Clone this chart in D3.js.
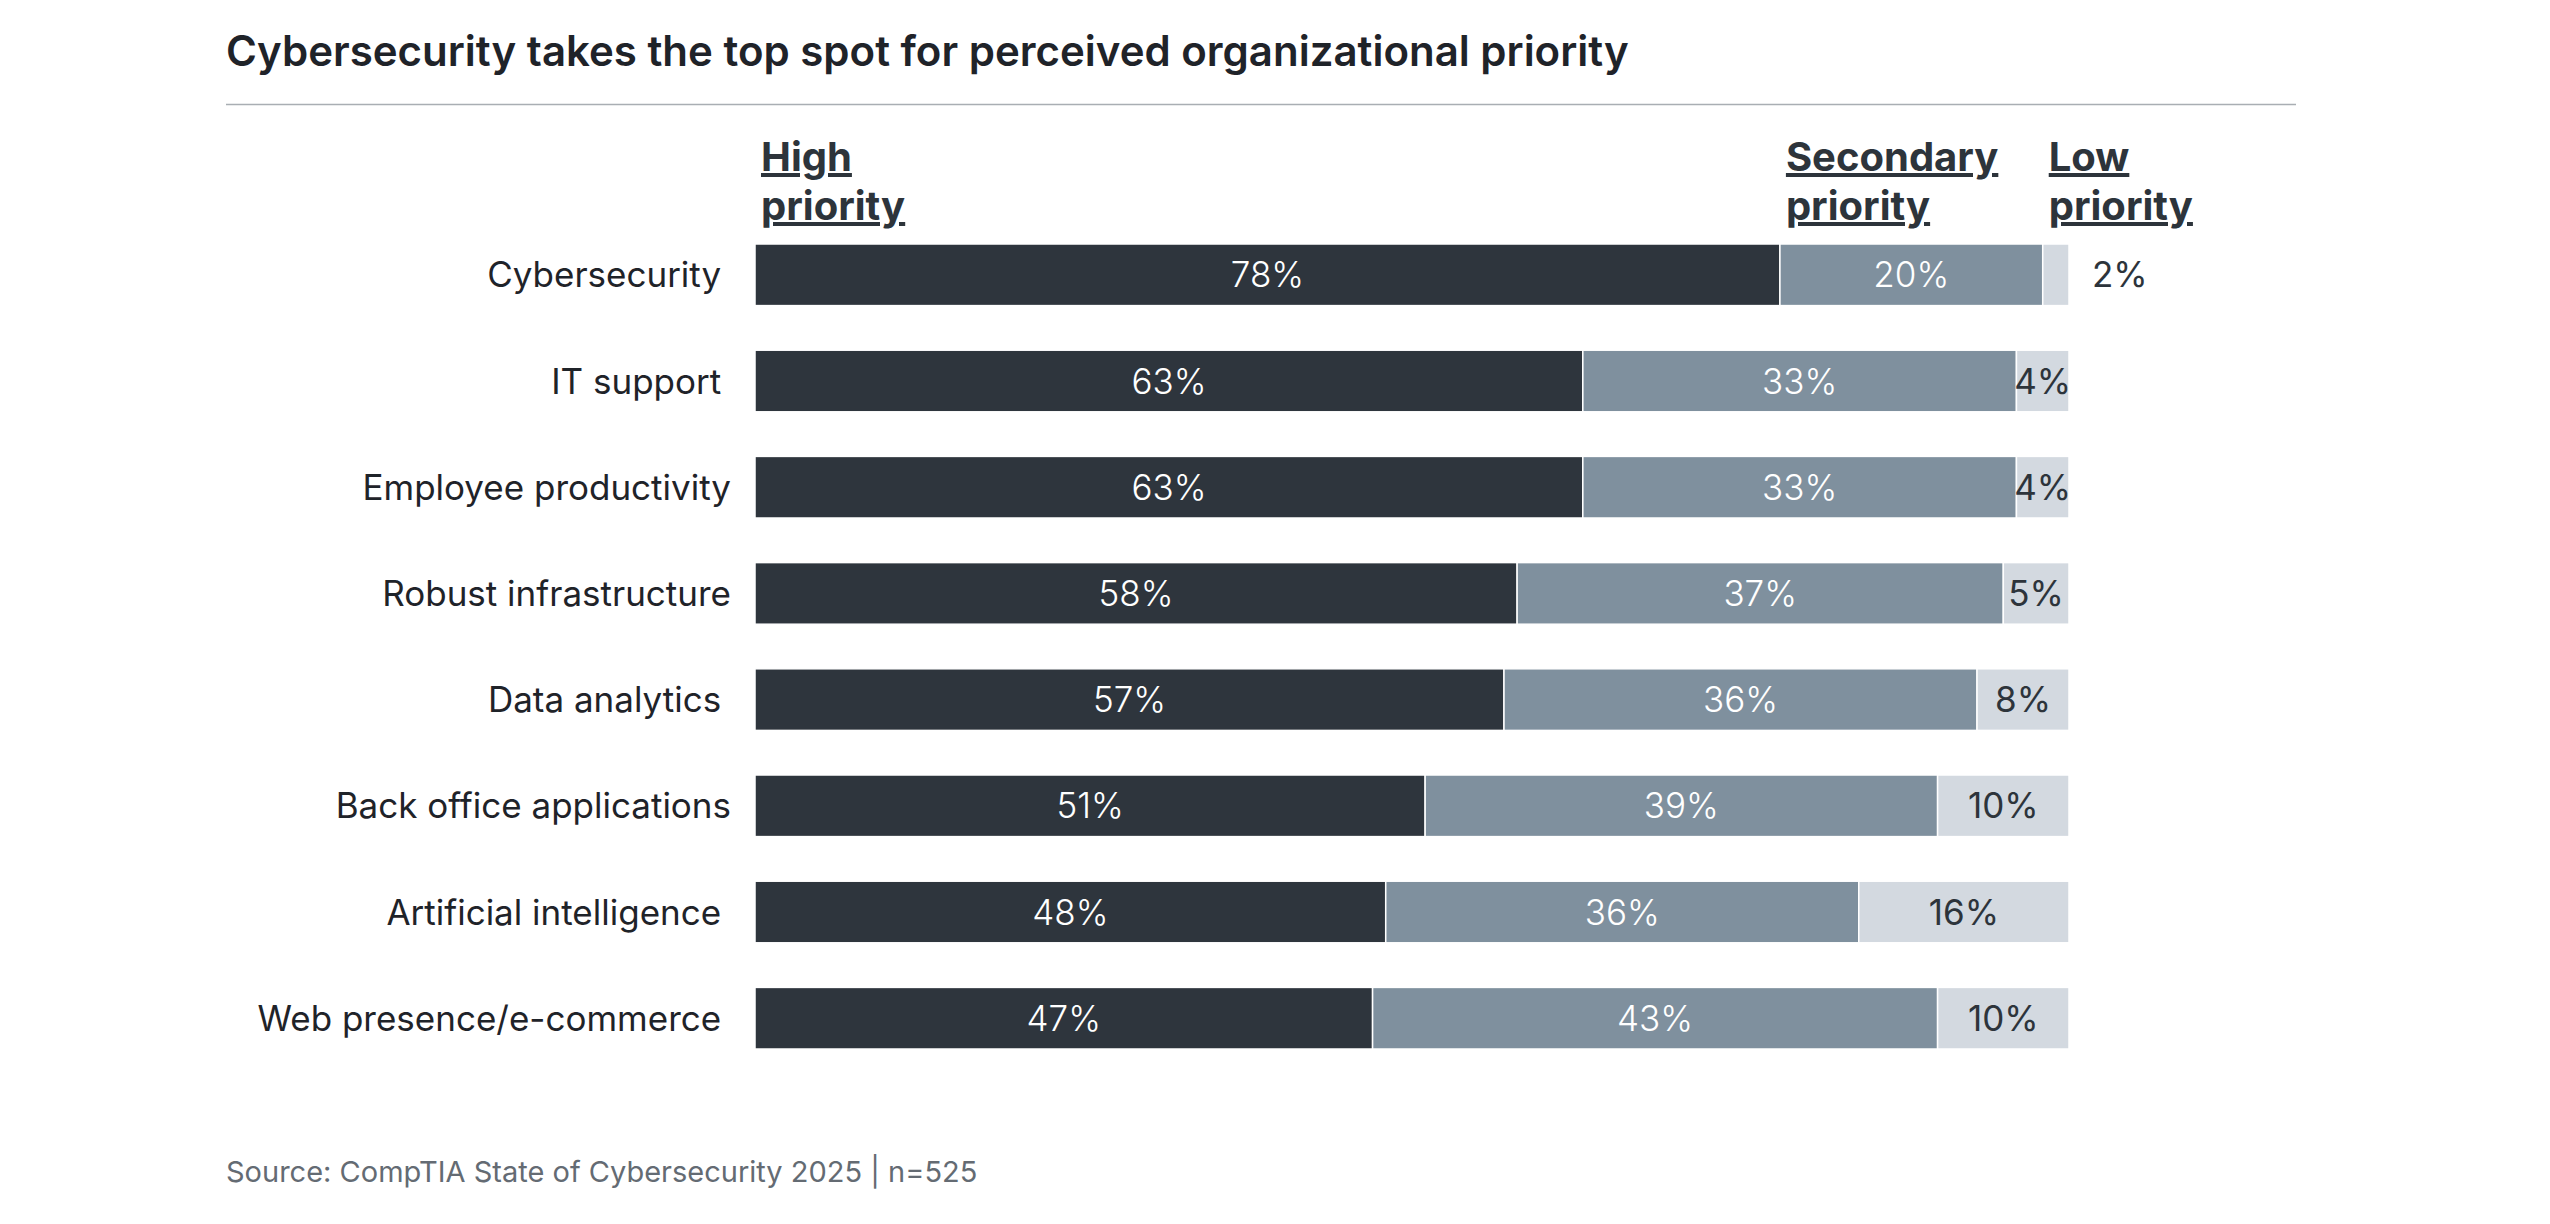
<!DOCTYPE html>
<html>
<head>
<meta charset="utf-8">
<script src="https://cdn.jsdelivr.net/npm/d3@7"></script>
<style>
  body { margin: 0; background: #fff; }
  svg { display: block; font-family: Inter, 'Noto Sans', sans-serif; }
</style>
</head>
<body>
<div class="stackchart"></div>
<script>
const categories = [
  'Cybersecurity\u00a0',
  'IT support\u00a0',
  'Employee productivity',
  'Robust infrastructure',
  'Data analytics\u00a0',
  'Back office applications',
  'Artificial intelligence\u00a0',
  'Web presence/e-commerce\u00a0'
];
const highPriority = [78, 63, 63, 58, 57, 51, 48, 47];
const secondaryPriority = [20, 33, 33, 37, 36, 39, 36, 43];
const lowPriority = [2, 4, 4, 5, 8, 10, 16, 10];
const seriesNames = [['High', 'priority'], ['Secondary', 'priority'], ['Low', 'priority']];
const title = 'Cybersecurity takes the top spot for perceived organizational priority';
const source = 'Source: CompTIA State of Cybersecurity 2025 | n=525';

(function() {
  const config = {
    container: '.stackchart',
    width: 2550,
    height: 1224,
    left: 226,
    right: 2296,
    barLeft: 755,
    barRight: 2069,
    barTop: 244,
    barBottom: 1049
  };
  const colors = ['#2e353d', '#7f909e', '#d3d9e0'];
  const textColors = ['#ffffff', '#ffffff', '#2d343b'];

  const chart = {};

  // one row per category, segments stacked left to right
  const rows = categories.map((c, i) => {
    const vals = [highPriority[i], secondaryPriority[i], lowPriority[i]];
    let start = 0;
    return {
      category: c,
      segments: vals.map((v, k) => {
        const s = { key: k, value: v, x0: start, x1: start + v };
        start += v;
        return s;
      })
    };
  });

  chart.$svg = d3.select(config.container)
    .append('svg')
    .attr('width', config.width)
    .attr('height', config.height)
    .attr('viewBox', `0 0 ${config.width} ${config.height}`);

  chart.xScale = d3.scaleLinear()
    .domain([0, 100])
    .range([config.barLeft, config.barRight])
    .clamp(true);

  chart.yScale = d3.scaleBand()
    .domain(categories)
    .range([config.barTop, config.barBottom])
    .paddingInner(0.42)
    .paddingOuter(0);

  const x = chart.xScale;
  const y = chart.yScale;

  chart.$svg.append('text')
    .attr('x', config.left)
    .attr('y', 66)
    .attr('font-size', 42)
    .attr('font-weight', 600)
    .attr('fill', '#1f2329')
    .text(title);

  chart.$svg.append('line')
    .attr('x1', config.left)
    .attr('x2', config.right)
    .attr('y1', 104.5)
    .attr('y2', 104.5)
    .attr('stroke', '#a9aeb3')
    .attr('stroke-width', 1.5);

  // series headers sit at the start of each segment in the first row
  chart.$svg.append('g')
    .selectAll('text')
    .data(rows[0].segments)
    .enter()
    .append('text')
    .attr('x', d => x(d.x0) + 6)
    .attr('y', 171)
    .attr('font-size', 40)
    .attr('font-weight', 700)
    .attr('fill', '#2d343b')
    .attr('text-decoration', 'underline')
    .each(function (d) {
      const $t = d3.select(this);
      seriesNames[d.key].forEach((line, i) => {
        $t.append('tspan')
          .attr('x', x(d.x0) + 6)
          .attr('dy', i ? 49 : 0)
          .text(line);
      });
    });

  chart.$rows = chart.$svg.append('g')
    .selectAll('g')
    .data(rows)
    .enter()
    .append('g')
    .attr('transform', d => `translate(0, ${y(d.category)})`);

  chart.$rows.append('text')
    .attr('x', 731)
    .attr('y', y.bandwidth() / 2)
    .attr('dy', '0.36em')
    .attr('text-anchor', 'end')
    .attr('font-size', 35)
    .attr('fill', '#1f2329')
    .attr('xml:space', 'preserve')
    .text(d => d.category);

  chart.$rows.selectAll('rect')
    .data(d => d.segments)
    .enter()
    .append('rect')
    .attr('x', d => x(d.x0))
    .attr('y', 0)
    .attr('width', d => x(d.x1) - x(d.x0))
    .attr('height', y.bandwidth())
    .attr('fill', d => colors[d.key])
    .attr('stroke', '#ffffff')
    .attr('stroke-width', 1.5);

  chart.$rows.selectAll('.value')
    .data(d => d.segments)
    .enter()
    .append('text')
    .attr('class', 'value')
    .each(function (d) {
      const w = x(d.x1) - x(d.x0);
      const inside = w >= 40;
      d3.select(this)
        .attr('x', inside ? (x(d.x0) + x(d.x1)) / 2 : x(d.x1) + 23)
        .attr('text-anchor', inside ? 'middle' : 'start')
        .attr('fill', textColors[d.key])
        .attr('font-weight', d.key === 2 ? 400 : 300);
    })
    .attr('y', y.bandwidth() / 2)
    .attr('dy', '0.36em')
    .attr('font-size', 35)
    .text(d => `${d.value}%`);

  chart.$svg.append('text')
    .attr('x', config.left)
    .attr('y', 1182)
    .attr('font-size', 29)
    .attr('fill', '#646b73')
    .text(source);
})();
</script>
</body>
</html>
